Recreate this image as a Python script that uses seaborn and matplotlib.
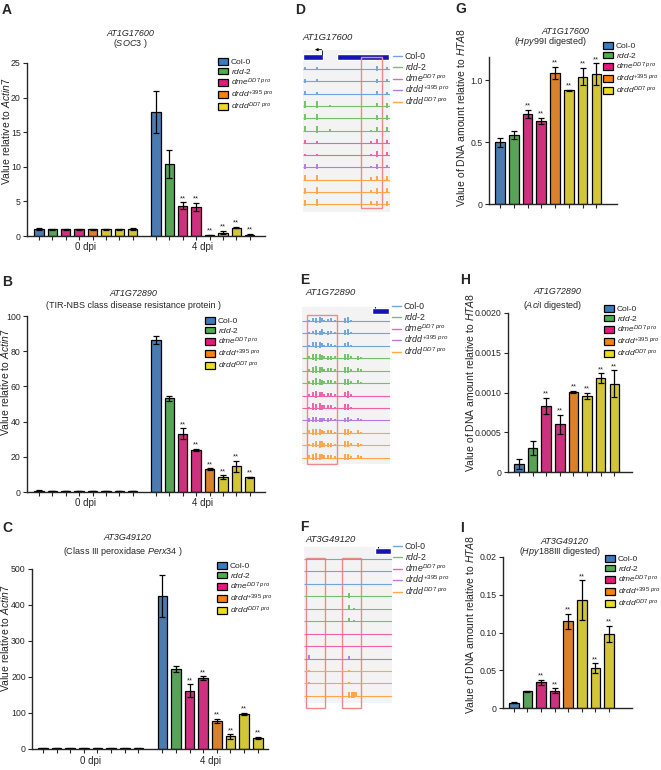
import numpy as np
import pandas as pd
import matplotlib
matplotlib.use("Agg")
import matplotlib.pyplot as plt
import seaborn as sns
from matplotlib.patches import Patch, Rectangle
from matplotlib.lines import Line2D

# ---- data ----
genotypes = ["Col-0", "rdd-2", "dme", "drdd395", "drddDD7"]
bar_genos = ["Col-0", "rdd-2", "dme", "dme", "drdd395", "drddDD7", "drddDD7", "drddDD7"]
legend_labels = ["Col-0", r"$\it{rdd}$-$\it{2}$", r"$\it{dme}^{DD7\ pro}$",
                 r"$\it{drdd}^{+395\ pro}$", r"$\it{drdd}^{DD7\ pro}$"]

# panel A (AT1G17600 / SOC3)
a_0dpi = [1.0, 0.95, 0.95, 0.95, 0.95, 0.95, 0.95, 1.0]
a_0dpi_err = [0.15, 0.05, 0.05, 0.05, 0.05, 0.05, 0.05, 0.1]
a_4dpi = [17.9, 10.4, 4.4, 4.2, 0.1, 0.5, 1.2, 0.2]
a_4dpi_err = [3.0, 2.0, 0.45, 0.6, 0.05, 0.2, 0.1, 0.1]

# panel B (AT1G72890)
b_0dpi = [0.8, 0.7, 0.7, 0.7, 0.7, 0.7, 0.7, 0.7]
b_0dpi_err = [0.1] * 8
b_4dpi = [86.2, 53.2, 33.1, 23.9, 12.9, 8.5, 14.6, 8.5]
b_4dpi_err = [2.2, 1.5, 3.0, 0.5, 0.6, 1.0, 3.0, 0.3]

# panel C (AT3G49120)
c_0dpi = [1.5] * 8
c_0dpi_err = [0.3] * 8
c_4dpi = [425, 222, 162, 197, 77, 35, 97, 31]
c_4dpi_err = [58, 8, 18, 5, 6, 6, 3, 3]

# panels G, H, I (McrBC-qPCR)
g_vals = [0.50, 0.56, 0.73, 0.67, 1.06, 0.92, 1.03, 1.05]
g_err = [0.035, 0.035, 0.03, 0.025, 0.05, 0.005, 0.07, 0.09]
h_vals = [0.0001, 0.0003, 0.00083, 0.0006, 0.00101, 0.00096, 0.00118, 0.00111]
h_err = [0.00006, 0.00009, 0.0001, 0.00012, 0.00001, 0.00004, 0.00006, 0.00017]
i_vals = [0.007, 0.022, 0.034, 0.023, 0.115, 0.143, 0.053, 0.098]
i_err = [0.0005, 0.001, 0.003, 0.003, 0.01, 0.026, 0.006, 0.011]
star_bars = [2, 3, 4, 5, 6, 7]

# genome browser tracks (12 rows)
track_genos = ["Col-0"] * 3 + ["rdd-2"] * 3 + ["dme"] * 2 + ["drdd395"] + ["drddDD7"] * 3

d_pos = [2.3, 15.7, 31, 77.8, 84.7, 96]
d_heights = [
    [0.2, 0.15, 0, 0.05, 0.25, 0.15],
    [0.2, 0.15, 0, 0.05, 0.2, 0.15],
    [0.2, 0.15, 0, 0, 0.2, 0.15],
    [0.35, 0.35, 0.05, 0, 0.2, 0.25],
    [0.35, 0.35, 0, 0.05, 0.25, 0.25],
    [0.3, 0.35, 0.1, 0.05, 0.25, 0.25],
    [0.2, 0.1, 0, 0.1, 0.25, 0.2],
    [0.1, 0.1, 0, 0.05, 0.3, 0.2],
    [0.25, 0.25, 0, 0.1, 0.25, 0.2],
    [0.3, 0.3, 0, 0.2, 0.25, 0.25],
    [0.3, 0.35, 0, 0.15, 0.3, 0.25],
    [0.3, 0.35, 0, 0.2, 0.25, 0.25],
]

e_pos = [8, 12, 16, 20, 22.5, 25, 29, 32.5, 37.5, 49, 52.5, 56, 63.5, 66.5]
e_heights = [
    [.1, .2, .25, .3, .2, .1, .15, .2, .1, .25, .3, .1, 0, 0],
    [.1, .15, .25, .2, .3, .1, .2, .15, .1, .25, .3, .1, 0, 0],
    [.1, .25, .3, .3, .2, .1, .2, .15, .1, .2, .25, .1, 0, 0],
    [.15, .3, .35, .3, .25, .15, .2, .2, .15, .3, .3, .15, .2, .1],
    [.15, .3, .35, .3, .25, .15, .2, .2, .15, .3, .3, .15, .2, .1],
    [.15, .25, .35, .3, .25, .15, .2, .2, .15, .3, .3, .15, .2, .1],
    [.1, .3, .35, .3, .25, .15, .2, .2, .1, .3, .35, .1, 0, 0],
    [.1, .35, .3, .35, .25, .2, .2, .2, .1, .3, .3, .1, 0, 0],
    [.2, .25, .25, .2, .2, .15, .2, .15, .1, .2, .25, .1, .15, .1],
    [.2, .3, .3, .3, .25, .15, .2, .2, .1, .3, .3, .15, .2, .1],
    [.1, .2, .3, .35, .3, .2, .2, .2, .1, .3, .3, .15, .2, .1],
    [.2, .3, .35, .3, .25, .2, .2, .2, .1, .3, .3, .15, .2, .1],
]

f_pos = [6, 33, 46.5, 51.5, 54.5, 57, 59.5]
f_heights = [
    [0, 0, 0, 0, 0, 0, 0],
    [0, 0, .05, 0, 0, 0, 0],
    [0, 0, 0, 0, 0, 0, 0],
    [0, 0, 0, .25, 0, 0, 0],
    [0, 0, 0, .25, 0, .05, 0],
    [0, .05, 0, .2, 0, .08, 0],
    [0, 0, 0, 0, 0, 0, 0],
    [0, 0, 0, 0, 0, 0, 0],
    [.25, 0, 0, .15, 0, 0, 0],
    [.1, 0, 0, .05, 0, 0, 0],
    [.08, 0, 0, .1, 0, 0, 0],
    [0, 0, 0, .3, .3, .3, .25],
]

# ---- style ----
sns.set_style("ticks")
plt.rcParams["font.family"] = ["Liberation Sans", "DejaVu Sans"]
plt.rcParams["mathtext.fontset"] = "custom"
plt.rcParams["mathtext.rm"] = "Liberation Sans"
plt.rcParams["mathtext.it"] = "Liberation Sans:italic"
plt.rcParams["mathtext.bf"] = "Liberation Sans:bold"

bar_colors = {"Col-0": "#3b7cc0", "rdd-2": "#4caf4c", "dme": "#e8177d",
              "drdd395": "#f7820e", "drddDD7": "#ecdc1e"}
track_colors = {"Col-0": "#72a6da", "rdd-2": "#74c06c", "dme": "#f062a8",
                "drdd395": "#b57ce0", "drddDD7": "#ffa54a"}

W, H = 661, 770
fig = plt.figure(figsize=(W / 100, H / 100), dpi=100)


def rect(x0, y0, x1, y1):
    return [x0 / W, 1 - y1 / H, (x1 - x0) / W, (y1 - y0) / H]


def ftext(x, y, s, **kw):
    fig.text(x / W, 1 - y / H, s, **kw)


def bar_panel(box, pos, vals, errs, genos, stars, xlim, ylim, yticks, yticklabels,
              ylabel, lab_px):
    ax = fig.add_axes(rect(*box))
    df = pd.DataFrame({"pos": pos, "val": vals, "bar": [f"b{k}" for k in range(len(pos))]})
    sns.barplot(data=df, x="pos", y="val", hue="bar",
                palette=[bar_colors[g] for g in genos], native_scale=True, dodge=False,
                width=0.7, edgecolor="black", linewidth=0.9, errorbar=None,
                legend=False, ax=ax)
    ax.errorbar(pos, vals, yerr=errs, fmt="none", ecolor="black", elinewidth=0.9,
                capsize=2, capthick=0.9)
    for k in stars:
        ax.annotate("**", (pos[k], vals[k] + errs[k]), xytext=(0, 0.2),
                    textcoords="offset points", ha="center", va="bottom", fontsize=5.5)
    ax.set_xlim(xlim)
    ax.set_ylim(ylim)
    ax.set_xticks(pos)
    ax.set_xticklabels([])
    ax.set_yticks(yticks)
    ax.set_yticklabels(yticklabels, fontsize=6.3)
    ax.set_xlabel("")
    ax.set_ylabel(ylabel, fontsize=7.5)
    x0, y0, x1, y1 = box
    ax.yaxis.set_label_coords((lab_px[0] - x0) / (x1 - x0), (y1 - lab_px[1]) / (y1 - y0))
    ax.tick_params(length=3, width=0.8, pad=1.5)
    sns.despine(ax=ax)
    for sp in ["left", "bottom"]:
        ax.spines[sp].set_linewidth(1)
    return ax


def bar_legend(x, y):
    handles = [Patch(facecolor=bar_colors[g], edgecolor="black", linewidth=0.9)
               for g in genotypes]
    fig.legend(handles, legend_labels, loc="upper left", bbox_to_anchor=(x / W, 1 - y / H),
               frameon=False, fontsize=6, handlelength=1.25, handleheight=0.85,
               handletextpad=0.3, labelspacing=0.08, borderpad=0, borderaxespad=0)


def track_legend(x, y):
    handles = [Line2D([0], [0], color=track_colors[g], lw=1) for g in genotypes]
    fig.legend(handles, legend_labels, loc="upper left", bbox_to_anchor=(x / W, 1 - y / H),
               frameon=False, fontsize=6.3, handlelength=1.0, handletextpad=0.35,
               labelspacing=0.0, borderpad=0, borderaxespad=0)


def track_panel(box, tpos, theights, gene_y, gene_boxes, arrow, red_boxes, ylim):
    ax = fig.add_axes(rect(*box))
    ax.set_facecolor("#f3f3f3")
    for k, g in enumerate(track_genos):
        c = track_colors[g]
        y = k + 1
        ax.hlines(y, 0, 100, color=c, lw=0.8)
        for p, h in zip(tpos, theights[k]):
            if h > 0:
                ax.vlines(p, y - 1.1 * h, y + 0.5 * h, color=c, lw=1.4)
    ax.broken_barh([(a, b - a) for a, b in gene_boxes], (gene_y - 0.22, 0.44),
                   facecolors="#1414b4")
    xv, xh = arrow
    ax.vlines(xv, gene_y - 0.6, gene_y - 0.2, color="black", lw=0.6)
    ax.annotate("", xy=(xh, gene_y - 0.6), xytext=(xv, gene_y - 0.6),
                arrowprops=dict(arrowstyle="-|>", lw=0.6, color="black", mutation_scale=4,
                                shrinkA=0, shrinkB=0))
    for (rx0, rx1, ry0, ry1) in red_boxes:
        ax.add_patch(Rectangle((rx0, ry0), rx1 - rx0, ry1 - ry0, fill=False,
                               edgecolor="#f08a8a", lw=1.0, clip_on=False))
    ax.set_xlim(0, 100)
    ax.set_ylim(ylim)
    ax.set_xticks([])
    ax.set_yticks([])
    for sp in ax.spines.values():
        sp.set_visible(False)
    return ax


pos16 = [0, 1, 2, 3, 4, 5, 6, 7, 8.75, 9.75, 10.75, 11.75, 12.75, 13.75, 14.75, 15.75]
pos8 = [0, 1, 2, 3, 4, 5, 6, 7]
stars16 = [8 + k for k in star_bars]
actin_lab = r"Value relative to $\it{Actin7}$"
hta_lab = r"Value of DNA amount relative to $\it{HTA8}$"

# ---- A ----
ax = bar_panel((27, 63, 265, 236), pos16, a_0dpi + a_4dpi, a_0dpi_err + a_4dpi_err,
               bar_genos * 2, stars16, (-0.9, 16.9), (0, 25), [0, 5, 10, 15, 20, 25],
               ["0", "5", "10", "15", "20", "25"], actin_lab, (12, 131))
for cx, s in [(3.5, "0 dpi"), (12.25, "4 dpi")]:
    ax.annotate(s, (cx, 0), xycoords=("data", "axes fraction"), xytext=(0, -8),
                textcoords="offset points", ha="center", va="center", fontsize=7)
ftext(130, 33, "AT1G17600", ha="center", va="center", fontsize=6.5, style="italic")
ftext(130, 43, r"($\it{SOC3}$ )", ha="center", va="center", fontsize=6.5)
bar_legend(218, 58)

# ---- B ----
ax = bar_panel((27, 316, 265, 492), pos16, b_0dpi + b_4dpi, b_0dpi_err + b_4dpi_err,
               bar_genos * 2, stars16, (-0.9, 16.9), (0, 100), [0, 20, 40, 60, 80, 100],
               ["0", "20", "40", "60", "80", "100"], actin_lab, (11, 382))
for cx, s in [(3.5, "0 dpi"), (12.25, "4 dpi")]:
    ax.annotate(s, (cx, 0), xycoords=("data", "axes fraction"), xytext=(0, -8),
                textcoords="offset points", ha="center", va="center", fontsize=7)
ftext(133, 294, "AT1G72890", ha="center", va="center", fontsize=6.5, style="italic")
ftext(133, 305, "(TIR-NBS class disease resistance protein )", ha="center", va="center",
      fontsize=6.5)
bar_legend(205, 317)

# ---- C ----
ax = bar_panel((32, 569, 268, 749), pos16, c_0dpi + c_4dpi, c_0dpi_err + c_4dpi_err,
               bar_genos * 2, stars16, (-0.8, 16.5), (0, 500), [0, 100, 200, 300, 400, 500],
               ["0", "100", "200", "300", "400", "500"], actin_lab, (11, 638))
for cx, s in [(3.5, "0 dpi"), (12.25, "4 dpi")]:
    ax.annotate(s, (cx, 0), xycoords=("data", "axes fraction"), xytext=(0, -9),
                textcoords="offset points", ha="center", va="center", fontsize=7)
ftext(127, 538, "AT3G49120", ha="center", va="center", fontsize=6.5, style="italic")
ftext(123, 552, r"(Class III peroxidase $\it{Perx34}$ )", ha="center", va="center",
      fontsize=6.5)
bar_legend(217, 562)

# ---- D, E, F ----
track_panel((303, 50, 390, 212), d_pos, d_heights, 0, [(0, 23.4), (38.7, 99)],
            (21.5, 13.8), [(66.3, 90.5, 0, 12.3)], (12.65, -0.57))
ftext(302, 37, "AT1G17600", ha="left", va="center", fontsize=6.8, style="italic")
track_legend(393, 52)

track_panel((302, 307, 390, 464), e_pos, e_heights, 0.19, [(79, 99)],
            (83, 89.5), [(5.7, 39.8, 0.5, 12.5)], (12.5, -0.13))
ftext(305, 293, "AT1G72890", ha="left", va="center", fontsize=6.8, style="italic")
track_legend(392, 302)

track_panel((304, 547, 392, 703), f_pos, f_heights, 0.36, [(80.7, 98.5)],
            (84, 90), [(2.3, 24.2, 0.92, 12.94), (43.2, 64.8, 0.92, 12.94)], (12.57, 0.04))
ftext(305, 539, "AT3G49120", ha="left", va="center", fontsize=6.8, style="italic")
track_legend(393, 542)

# ---- G ----
bar_panel((489, 57, 617, 204), pos8, g_vals, g_err, bar_genos, star_bars, (-0.8, 8.5),
          (0, 1.19), [0, 0.5, 1.0], ["0", "0.5", "1.0"], hta_lab, (467, 117))
ftext(565, 31, "AT1G17600", ha="center", va="center", fontsize=6.5, style="italic")
ftext(550, 41, r"($\it{Hpy}$99I digested)", ha="center", va="center", fontsize=6.5)
bar_legend(603, 42)

# ---- H ----
bar_panel((508, 313, 632, 472), pos8, h_vals, h_err, bar_genos, star_bars, (-0.8, 8.3),
          (0, 0.002), [0, 0.0005, 0.001, 0.0015, 0.002],
          ["0", "0.0005", "0.0010", "0.0015", "0.0020"], hta_lab, (476, 382))
ftext(557, 292, "AT1G72890", ha="center", va="center", fontsize=6.5, style="italic")
ftext(552, 306, r"($\it{Aci}$I digested)", ha="center", va="center", fontsize=6.5)
bar_legend(604, 305)

# ---- I ----
bar_panel((503, 557, 632, 708), pos8, i_vals, i_err, bar_genos, star_bars, (-0.8, 8.7),
          (0, 0.2), [0, 0.05, 0.10, 0.15, 0.20],
          ["0", "0.05", "0.10", "0.15", "0.02"], hta_lab, (476, 624))
ftext(564, 541, "AT3G49120", ha="center", va="center", fontsize=6.5, style="italic")
ftext(560, 552, r"($\it{Hpy}$188III digested)", ha="center", va="center", fontsize=6.5)
bar_legend(605, 555)

# panel letters
for letter, x, y in [("A", 2, 3), ("B", 2, 275), ("C", 2, 521), ("D", 295, 3),
                     ("E", 300, 273), ("F", 300, 520), ("G", 455, 2), ("H", 460, 273),
                     ("I", 460, 521)]:
    ftext(x, y, letter, ha="left", va="top", fontsize=10, fontweight="bold")

fig.savefig("out.png", dpi=100)
